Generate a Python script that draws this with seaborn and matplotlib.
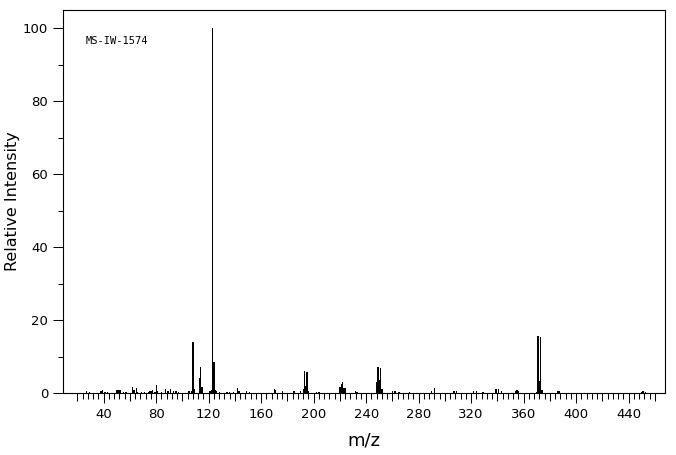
import numpy as np
import pandas as pd
import seaborn as sns
import matplotlib.pyplot as plt

# peak list (m/z, relative intensity)
mz = [27, 29, 38, 39, 41, 43, 50, 51, 52, 53, 55, 57, 62, 63, 65, 66, 69, 71,
      74, 75, 76, 77, 79, 80, 81, 84, 87, 89, 91, 93, 95, 97, 105, 107,
      108, 109, 113, 114, 115, 121, 122, 123, 124, 125, 126, 128, 134, 136,
      139, 142, 143, 149, 151, 170, 171, 176, 185, 190, 192, 193, 194, 195,
      196, 202, 204, 220, 221, 222, 223, 224, 232, 233, 248, 249, 250, 251,
      252, 260, 262, 265, 273, 290, 292, 307, 309, 322, 324, 329, 339, 341,
      343, 354, 355, 356, 370, 371, 372, 373, 374, 386, 387, 450, 451, 453]
intensity = [0.6, 0.4, 0.6, 0.8, 0.4, 0.3, 0.7, 0.9, 0.9, 0.7, 0.4, 0.3, 1.7,
             0.8, 1.4, 0.4, 0.4, 0.4, 0.4, 0.5, 0.6, 0.8, 0.4, 2.3, 0.5, 0.4,
             1.2, 0.6, 1.2, 0.5, 0.6, 0.4, 0.5, 0.6, 14.0, 1.1, 4.1, 7.2, 1.6,
             0.6, 0.8, 100.0, 8.6, 0.7, 0.5, 0.4, 0.4, 0.4, 0.4, 1.3, 0.6,
             0.5, 0.4, 1.1, 0.9, 0.5, 0.5, 0.5, 1.1, 6.0, 1.8, 5.8, 0.6, 0.4,
             0.4, 1.6, 2.6, 3.1, 1.4, 1.3, 0.5, 0.4, 2.9, 7.1, 3.6, 6.8, 1.2,
             0.5, 0.5, 0.3, 0.4, 0.6, 1.3, 0.5, 0.5, 0.5, 0.5, 0.4, 1.0, 1.0,
             0.5, 0.6, 0.7, 0.6, 0.4, 15.7, 3.2, 15.3, 0.8, 0.5, 0.5, 0.4,
             0.5, 0.4]

sample_id = 'MS-IW-1574'

sns.set_style('ticks')
plt.rcParams['font.family'] = ['DejaVu Sans']
plt.rcParams['text.color'] = 'black'
plt.rcParams['axes.labelcolor'] = 'black'
plt.rcParams['xtick.color'] = 'black'
plt.rcParams['ytick.color'] = 'black'

df = pd.DataFrame({'mz': mz, 'intensity': intensity})

fig = plt.figure(figsize=(6.76, 4.55), dpi=100)
ax = fig.add_axes([63 / 676, 62 / 455, 602 / 676, 383 / 455])

sns.barplot(data=df, x='mz', y='intensity', native_scale=True, color='black',
            saturation=1, width=1.0, linewidth=0, errorbar=None, ax=ax)

ax.set_xlim(9, 467.7)
ax.set_ylim(0, 105)

# ticks: major every 40 (labelled), medium at odd multiples of 20, minor every 4
ax.set_xticks(np.arange(40, 441, 40))
ax.set_xticks([t for t in range(20, 461, 4) if t % 20 != 0], minor=True)
ax.set_yticks(np.arange(0, 101, 20))
ax.set_yticks(np.arange(10, 100, 20), minor=True)
ax.tick_params(which='major', length=7.2, width=0.75, color='black',
               labelsize=9.5, pad=3.5, labelcolor='black')
ax.tick_params(which='minor', length=4.3, width=0.75, color='black')
ax.tick_params(axis='y', which='minor', length=3.6)

sec = ax.secondary_xaxis(0)
sec.set_xticks(np.arange(20, 461, 40))
sec.tick_params(length=5.5, width=0.75, color='black', labelbottom=False)
sec.spines['bottom'].set_visible(False)

for s in ax.spines.values():
    s.set_visible(True)
    s.set_linewidth(0.8)
    s.set_color('black')

ax.set_xlabel('m/z', fontsize=13, labelpad=8)
ax.set_ylabel('Relative Intensity', fontsize=11.5, labelpad=2)

ax.text(0.038, 0.919, sample_id, transform=ax.transAxes, fontsize=7.5,
        family='DejaVu Sans Mono', va='center', ha='left')

fig.savefig('out.png', dpi=100)
